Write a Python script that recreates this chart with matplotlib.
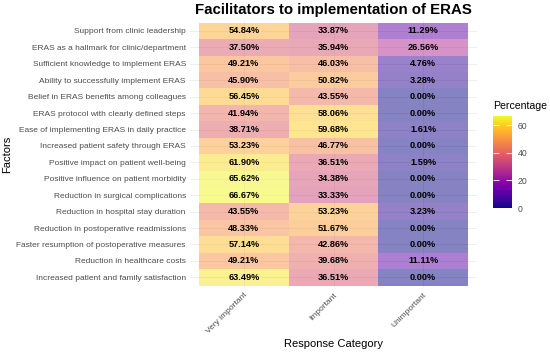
import numpy as np
import matplotlib.pyplot as plt
from matplotlib import cm, colors

plt.rcParams["font.family"] = ["Liberation Sans", "DejaVu Sans"]

factors = [
    "Support from clinic leadership",
    "ERAS as a hallmark for clinic/department",
    "Sufficient knowledge to implement ERAS",
    "Ability to successfully implement ERAS",
    "Belief in ERAS benefits among colleagues",
    "ERAS protocol with clearly defined steps",
    "Ease of implementing ERAS in daily practice",
    "Increased patient safety through ERAS",
    "Positive impact on patient well-being",
    "Positive influence on patient morbidity",
    "Reduction in surgical complications",
    "Reduction in hospital stay duration",
    "Reduction in postoperative readmissions",
    "Faster resumption of postoperative measures",
    "Reduction in healthcare costs",
    "Increased patient and family satisfaction",
]
categories = ["Very important", "Important", "Unimportant"]

very_important = [54.84, 37.50, 49.21, 45.90, 56.45, 41.94, 38.71, 53.23,
                  61.90, 65.62, 66.67, 43.55, 48.33, 57.14, 49.21, 63.49]
important = [33.87, 35.94, 46.03, 50.82, 43.55, 58.06, 59.68, 46.77,
             36.51, 34.38, 33.33, 53.23, 51.67, 42.86, 39.68, 36.51]
unimportant = [11.29, 26.56, 4.76, 3.28, 0.00, 0.00, 1.61, 0.00,
               1.59, 0.00, 0.00, 3.23, 0.00, 0.00, 11.11, 0.00]

vals = np.array([very_important, important, unimportant]).T
n_rows, n_cols = vals.shape

W, H = 550, 353
fig = plt.figure(figsize=(W / 100, H / 100), dpi=100)

# panel placed in pixel coords
px_l, px_r, px_t, px_b = 190.0, 477.0, 21.1, 287.2
ax = fig.add_axes([px_l / W, 1 - px_b / H, (px_r - px_l) / W, (px_b - px_t) / H])

norm = colors.Normalize(vmin=0, vmax=vals.max())
cmap = plt.get_cmap("plasma")

ax.pcolormesh(np.arange(n_cols + 1), np.arange(n_rows + 1), vals,
              cmap=cmap, norm=norm, alpha=0.5, zorder=2, linewidth=0)

for i in range(n_rows):
    for j in range(n_cols):
        ax.text(j + 0.5, i + 0.5, f"{vals[i, j]:.2f}%", ha="center", va="center",
                fontsize=6.6, fontweight="bold", color="black", zorder=3)

ax.set_xlim(-0.1, n_cols + 0.1)
ax.set_ylim(n_rows + 0.1, -0.1)
ax.set_xticks(np.arange(n_cols) + 0.5)
ax.set_xticklabels(categories, rotation=45, ha="right", rotation_mode="anchor")
ax.set_yticks(np.arange(n_rows) + 0.5)
ax.set_yticklabels(factors)
ax.tick_params(length=0, labelsize=6.0, labelcolor="#4D4D4D", pad=3)
ax.grid(True, color="#EBEBEB", linewidth=0.6, zorder=0)
ax.set_axisbelow(True)
for s in ax.spines.values():
    s.set_visible(False)

ax.set_xlabel("Response Category", fontsize=8, labelpad=3)
fig.text(7 / W, 1 - 154 / H, "Factors", rotation=90, fontsize=8,
         ha="center", va="center")
ax.set_title("Facilitators to implementation of ERAS", fontsize=10.8,
             fontweight="bold", pad=5)

# colour bar
cax = fig.add_axes([493 / W, 1 - 208 / H, 19 / W, 92 / H])
sm = cm.ScalarMappable(norm=norm, cmap=cmap)
cb = fig.colorbar(sm, cax=cax, ticks=[0, 20, 40, 60])
cb.outline.set_visible(False)
cax.tick_params(direction="in", length=4, color="white", width=0.6,
                left=True, right=True, labelsize=6.2, labelcolor="#4D4D4D", pad=4)
cax.set_title("Percentage", fontsize=7.6, loc="left", pad=5)

fig.savefig("out.png", dpi=100)
